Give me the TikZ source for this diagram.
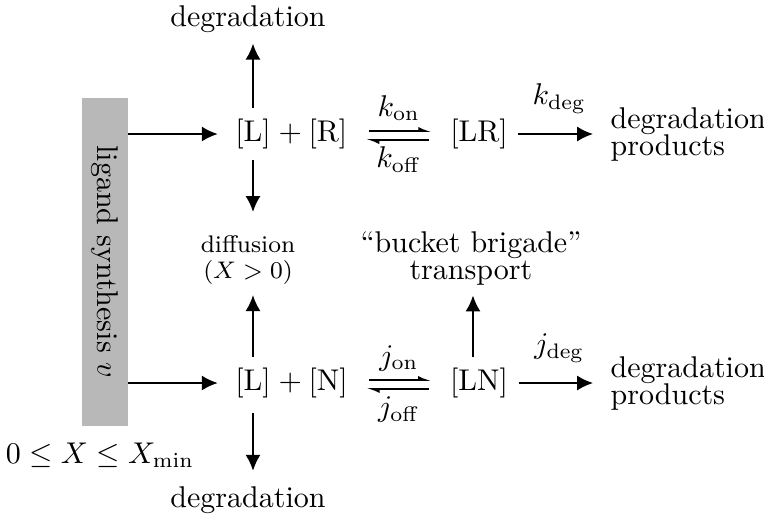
\documentclass[tikz,border=0pt]{standalone}
\usetikzlibrary{arrows.meta, positioning, calc}
\definecolor{synthgray}{RGB}{184,184,184}

\begin{document}
\begin{tikzpicture}[x=0.3333pt, y=-0.3333pt,
    flow/.style={-{Latex[length=5.3pt,width=5pt]}, line width=0.65pt},
    harpoon/.style={-{Latex[left,length=3.5pt,width=2.8pt]}, line width=0.65pt, shorten <=3.6pt, shorten >=2.4pt},
    rate/.style={midway, anchor=base, inner sep=0pt},
    note/.style={align=center}]
    % Rows of the two reactions
    \def\rowR{134}
    \def\rowN{383}

    \useasboundingbox (0,0) rectangle (764,524);

    % Draw the ligand source
    \node[fill=synthgray, minimum width=15pt, minimum height=109.3pt, inner sep=0pt] (synth) at (105,262) {};
    \node[rotate=-90] (synthtext) at (synth) {ligand synthesis $v$};
    \node (xrange) at (100,455) {$0 \leq X \leq X_{\min}$};

    % Receptor row
    \node (Lr) at (253,\rowR) {$[\mathrm{L}]$};
    \node[right=-6.67pt of Lr] (Rr) {${}+[\mathrm{R}]$};
    \node (LRc) at (479,\rowR) {$[\mathrm{LR}]$};
    \node[anchor=west, align=left] (prodR) at (600,\rowR) {degradation\\[-3pt]products};
    \node (degR) at (248,19.5) {degradation};

    % Non-receptor row
    \node (Ln) at (253,\rowN) {$[\mathrm{L}]$};
    \node[right=-6.67pt of Ln] (Nn) {${}+[\mathrm{N}]$};
    \node (LNc) at (479,\rowN) {$[\mathrm{LN}]$};
    \node[anchor=west, align=left] (prodN) at (600,\rowN) {degradation\\[-3pt]products};
    \node (degN) at (248,500) {degradation};

    % Middle notes
    \node[note, font=\footnotesize] (diffu) at (248,260) {diffusion\\[-0.8pt]$(X>0)$};
    \node[note] (bucket) at (471,258) {``bucket brigade''\\[-3pt]transport};

    % Draw the synthesis arrows
    \draw[flow, shorten >=2.3pt] (synth.east |- Lr) -- (Lr);
    \draw[flow, shorten >=2.3pt] (synth.east |- Ln) -- (Ln);

    % Draw the binding arrows with rates
    \draw[harpoon] ([yshift=1pt]Rr.east) -- node[rate, yshift=5pt] {$k_{\mathrm{on}}$} ([yshift=1pt]LRc.west);
    \draw[harpoon] ([yshift=-2pt]LRc.west) -- node[rate, yshift=-9.3pt] {$k_{\mathrm{off}}$} ([yshift=-2pt]Rr.east);
    \draw[harpoon] ([yshift=1pt]Nn.east) -- node[rate, yshift=5pt] {$j_{\mathrm{on}}$} ([yshift=1pt]LNc.west);
    \draw[harpoon] ([yshift=-2pt]LNc.west) -- node[rate, yshift=-9.3pt] {$j_{\mathrm{off}}$} ([yshift=-2pt]Nn.east);

    % Draw the degradation of the complexes
    \draw[flow, shorten >=2.3pt] (LRc) -- node[rate, yshift=9.7pt] {$k_{\mathrm{deg}}$} (prodR);
    \draw[flow, shorten >=2.3pt] (LNc) -- node[rate, yshift=9.7pt] {$j_{\mathrm{deg}}$} (prodN);

    % Draw the vertical arrows
    \draw[flow] (Lr.north) -- (Lr |- degR.south);
    \draw[flow, shorten >=4.3pt] (Lr.south) -- (Lr |- diffu.north);
    \draw[flow] (Ln.north) -- (Ln |- diffu.south);
    \draw[flow, shorten <=1.3pt, shorten >=1.7pt] (Ln.south) -- (Ln |- degN.north);
    \draw[flow] ([xshift=-2pt]LNc.north) -- ([xshift=-2pt]LNc.north |- bucket.south);
\end{tikzpicture}
\end{document}
